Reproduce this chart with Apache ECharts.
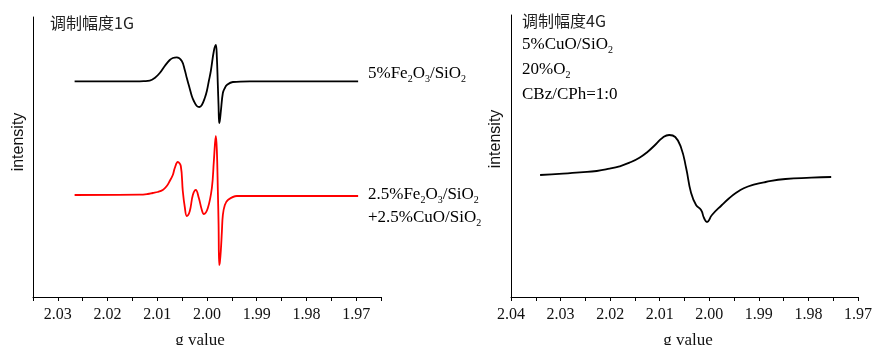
<!DOCTYPE html>
<html>
<head>
<meta charset="utf-8">
<script src="https://cdn.jsdelivr.net/npm/echarts@6/dist/echarts.min.js"></script>
<style>
html,body{margin:0;padding:0;background:#fff;}
#chart{width:875px;height:345px;}
</style>
</head>
<body>
<div id="chart"></div>
<script>
// ---- Data (g value, intensity in arbitrary units) ----
const fe5G = [2.02663, 2.01354, 2.01273, 2.01152, 2.01051, 2.00950, 2.00850, 2.00749, 2.00688, 2.00608, 2.00507, 2.00447, 2.00406, 2.00356, 2.00306, 2.00265, 2.00205, 2.00154, 2.00104, 2.00044, 2.00003, 1.99963, 1.99923, 1.99862, 1.99822, 1.99802, 1.99782, 1.99767, 1.99755, 1.99741, 1.99721, 1.99681, 1.99641, 1.99600, 1.99479, 1.99137, 1.96960];
const fe5I = [215.7, 215.7, 215.8, 216.3, 219, 224, 231, 237, 239, 239.7, 236, 227, 219, 210, 201, 196, 191, 190, 192, 199, 206, 216, 226, 246, 252, 240, 212, 190, 174, 177, 186, 204, 209, 212, 215, 215.7, 215.7];

const mixG = [2.02663, 2.01354, 2.01192, 2.01091, 2.00991, 2.00890, 2.00809, 2.00749, 2.00688, 2.00648, 2.00588, 2.00527, 2.00487, 2.00447, 2.00406, 2.00346, 2.00285, 2.00225, 2.00164, 2.00104, 2.00064, 1.99983, 1.99902, 1.99862, 1.99822, 1.99802, 1.99782, 1.99767, 1.99755, 1.99741, 1.99721, 1.99701, 1.99681, 1.99641, 1.99580, 1.99399, 1.99137, 1.96960];
const mixI = [102, 102.3, 103, 104, 105, 107, 111, 116, 122, 129, 135, 131, 106, 90, 81, 86, 102, 107, 99, 87, 83, 89, 109, 136, 161, 147, 107, 72, 32, 35, 47, 65, 82, 92, 97, 101, 101, 101];

const cuG = [2.03413, 2.02952, 2.02611, 2.02270, 2.02010, 2.01810, 2.01609, 2.01409, 2.01242, 2.01074, 2.00942, 2.00808, 2.00687, 2.00567, 2.00467, 2.00367, 2.00267, 2.00166, 2.00106, 2.00046, 1.99946, 1.99746, 1.99605, 1.99465, 1.99305, 1.99104, 1.98864, 1.98463, 1.97942, 1.97541];
const cuI = [122, 123.3, 124.7, 126, 128.3, 130.7, 134.3, 139.3, 145.3, 153, 159.3, 162, 160, 149, 129, 104, 92, 87, 79, 75, 82, 92, 98.5, 104, 108.7, 112.3, 115, 118, 119.3, 120];

const leftTicks = [2.03, 2.02, 2.01, 2.00, 1.99, 1.98, 1.97];
const rightTicks = [2.04, 2.03, 2.02, 2.01, 2.00, 1.99, 1.98, 1.97];

const zip = (g, v) => g.map((x, i) => [x, v[i]]);

const serif = 'Liberation Serif';
const cjk = 'Noto Sans CJK SC';

function tickFmt(list) {
  return function (v) {
    for (const t of list) { if (Math.abs(t - v) < 1e-6) return t.toFixed(2); }
    return '';
  };
}

function xAxisCfg(idx, min, max, ticks) {
  return {
    type: 'value', gridIndex: idx, inverse: true, min: min, max: max, interval: 0.005,
    axisLine: { show: true, onZero: false, lineStyle: { color: '#000', width: 1 } },
    axisTick: { show: true, length: 4, lineStyle: { color: '#000', width: 1 } },
    axisLabel: { formatter: tickFmt(ticks), fontFamily: serif, fontSize: 16, color: '#111', margin: 10 },
    splitLine: { show: false }
  };
}
function yAxisCfg(idx, max) {
  return {
    type: 'value', gridIndex: idx, min: 0, max: max,
    axisLine: { show: true, onZero: false, lineStyle: { color: '#000', width: 1 } },
    axisTick: { show: false }, axisLabel: { show: false }, splitLine: { show: false }
  };
}

const richBase = {
  n: { fontFamily: serif, fontSize: 17, lineHeight: 20, color: '#111' },
  s: { fontFamily: serif, fontSize: 10, lineHeight: 10, verticalAlign: 'bottom', color: '#111' }
};
function rtext(x, y, text) {
  return { type: 'text', x: x, y: y, style: { text: text, rich: richBase, align: 'left', verticalAlign: 'middle' } };
}
function ptext(x, y, text, font, size) {
  return { type: 'text', x: x, y: y,
    style: { text: text, fontFamily: font, fontSize: size, fill: '#222', align: 'left', verticalAlign: 'middle' } };
}
function vtext(x, y, text) {
  return { type: 'text', x: x, y: y, rotation: Math.PI / 2,
    style: { text: text, fontFamily: 'Liberation Sans', fontSize: 16, fill: '#111', align: 'center', verticalAlign: 'middle' } };
}

const chart = echarts.init(document.getElementById('chart'), null, { renderer: 'canvas' });
chart.setOption({
  backgroundColor: '#fff',
  animation: false,
  grid: [
    { left: 33, top: 17, width: 348, height: 280 },
    { left: 511, top: 15, width: 349, height: 282 }
  ],
  xAxis: [xAxisCfg(0, 1.965, 2.035, leftTicks), xAxisCfg(1, 1.97, 2.04, rightTicks)],
  yAxis: [yAxisCfg(0, 280), yAxisCfg(1, 282)],
  series: [
    { type: 'line', xAxisIndex: 0, yAxisIndex: 0, data: zip(fe5G, fe5I), showSymbol: false, smooth: 0.4,
      lineStyle: { color: '#000', width: 1.8 } },
    { type: 'line', xAxisIndex: 0, yAxisIndex: 0, data: zip(mixG, mixI), showSymbol: false, smooth: 0.4,
      lineStyle: { color: '#ff0000', width: 1.8 } },
    { type: 'line', xAxisIndex: 1, yAxisIndex: 1, data: zip(cuG, cuI), showSymbol: false, smooth: 0.5,
      lineStyle: { color: '#000', width: 1.8 } }
  ],
  graphic: [
    ptext(50, 23, '调制幅度1G', cjk, 16),
    ptext(522, 21, '调制幅度4G', cjk, 16),
    rtext(368, 74, '{n|5%Fe}{s|2}{n|O}{s|3}{n|/SiO}{s|2}'),
    rtext(368, 195, '{n|2.5%Fe}{s|2}{n|O}{s|3}{n|/SiO}{s|2}'),
    rtext(368, 218, '{n|+2.5%CuO/SiO}{s|2}'),
    rtext(522, 45, '{n|5%CuO/SiO}{s|2}'),
    rtext(522, 70, '{n|20%O}{s|2}'),
    rtext(522, 95, '{n|CBz/CPh=1:0}'),
    vtext(19, 142, 'intensity'),
    vtext(496, 139, 'intensity'),
    { type: 'text', x: 200, y: 341, style: { text: 'g value', fontFamily: serif, fontSize: 17, fill: '#111', align: 'center', verticalAlign: 'middle' } },
    { type: 'text', x: 688, y: 341, style: { text: 'g value', fontFamily: serif, fontSize: 17, fill: '#111', align: 'center', verticalAlign: 'middle' } }
  ]
});
</script>
</body>
</html>
